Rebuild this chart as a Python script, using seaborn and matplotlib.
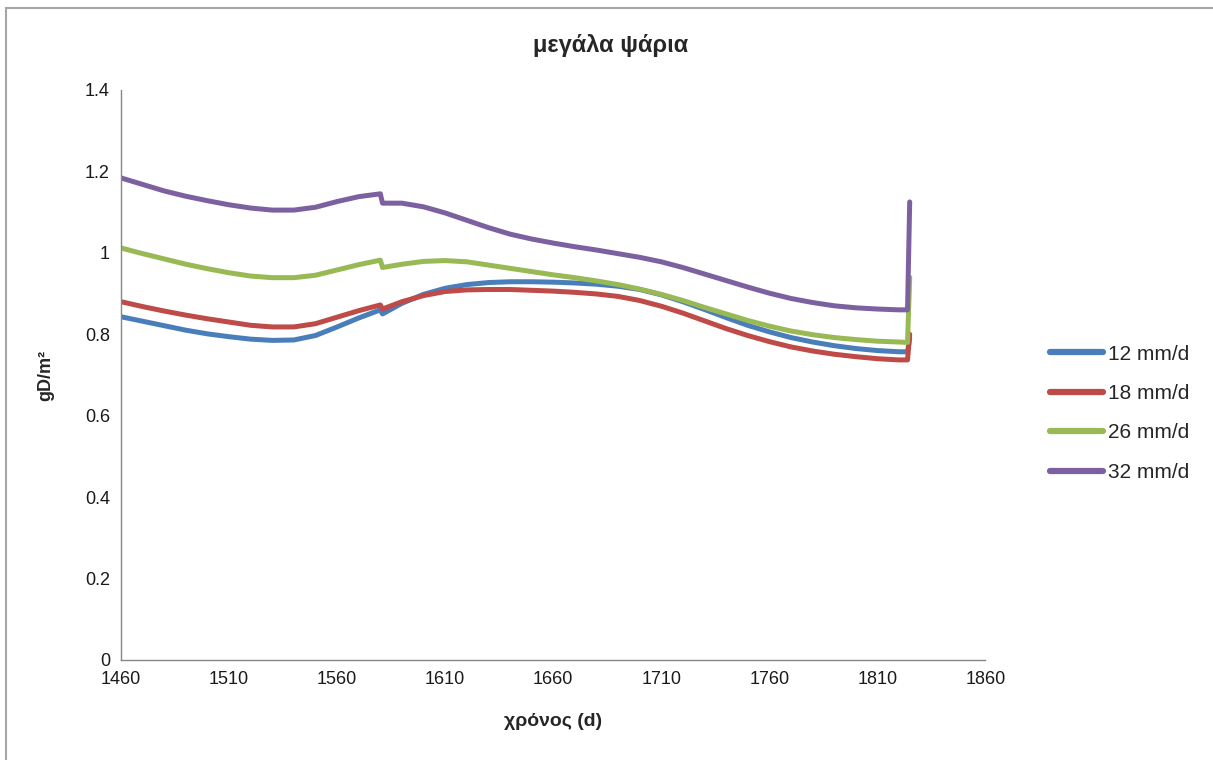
import matplotlib
matplotlib.use("Agg")
import matplotlib.pyplot as plt
import seaborn as sns
import pandas as pd
from matplotlib.patches import Rectangle

days = [1460, 1470, 1480, 1490, 1500, 1510, 1520, 1530, 1540, 1550, 1560, 1570, 1580,
        1581, 1590, 1600, 1610, 1620, 1630, 1640, 1650, 1660, 1670, 1680, 1690, 1700,
        1710, 1720, 1730, 1740, 1750, 1760, 1770, 1780, 1790, 1800, 1810, 1820, 1824, 1825]

s12 = [0.843, 0.832, 0.821, 0.810, 0.801, 0.794, 0.788, 0.785, 0.786, 0.797, 0.818, 0.840, 0.860,
       0.850, 0.876, 0.898, 0.913, 0.922, 0.927, 0.929, 0.929, 0.928, 0.926, 0.923, 0.918, 0.910,
       0.897, 0.880, 0.861, 0.841, 0.822, 0.806, 0.792, 0.781, 0.772, 0.765, 0.760, 0.757, 0.757, 0.79]
s18 = [0.880, 0.868, 0.857, 0.847, 0.838, 0.830, 0.822, 0.818, 0.818, 0.826, 0.842, 0.858, 0.872,
       0.862, 0.880, 0.895, 0.905, 0.909, 0.910, 0.910, 0.908, 0.906, 0.903, 0.899, 0.893, 0.883,
       0.869, 0.852, 0.833, 0.814, 0.797, 0.782, 0.769, 0.759, 0.751, 0.745, 0.740, 0.737, 0.737, 0.80]
s26 = [1.012, 0.998, 0.985, 0.972, 0.961, 0.951, 0.943, 0.939, 0.939, 0.945, 0.958, 0.971, 0.982,
       0.964, 0.972, 0.979, 0.981, 0.978, 0.970, 0.962, 0.954, 0.946, 0.939, 0.931, 0.922, 0.911,
       0.898, 0.883, 0.866, 0.850, 0.834, 0.820, 0.808, 0.799, 0.792, 0.787, 0.783, 0.781, 0.780, 0.94]
s32 = [1.184, 1.168, 1.152, 1.139, 1.128, 1.118, 1.110, 1.105, 1.105, 1.112, 1.126, 1.138, 1.145,
       1.122, 1.122, 1.113, 1.098, 1.080, 1.062, 1.046, 1.034, 1.024, 1.015, 1.007, 0.998, 0.989,
       0.978, 0.964, 0.948, 0.932, 0.916, 0.901, 0.888, 0.878, 0.870, 0.865, 0.862, 0.860, 0.860, 1.125]

series_names = ["12 mm/d", "18 mm/d", "26 mm/d", "32 mm/d"]
colors = ["#4A7EBB", "#BE4B48", "#98B954", "#7D60A0"]
x_ticks = [1460, 1510, 1560, 1610, 1660, 1710, 1760, 1810, 1860]
y_ticks = [0, 0.2, 0.4, 0.6, 0.8, 1.0, 1.2, 1.4]
y_tick_labels = ["0", "0.2", "0.4", "0.6", "0.8", "1", "1.2", "1.4"]

rows = []
for name, vals in zip(series_names, [s12, s18, s26, s32]):
    for d, v in zip(days, vals):
        rows.append({"day": d, "value": v, "series": name})
df = pd.DataFrame(rows)

sns.set_theme(style="white")
plt.rcParams['font.family'] = ['Liberation Sans', 'DejaVu Sans']

fig = plt.figure(figsize=(12.13, 7.6), dpi=100)
ax = fig.add_axes([0.0998, 0.1316, 0.7125, 0.75])

sns.lineplot(data=df, x="day", y="value", hue="series", hue_order=series_names,
             palette=colors, linewidth=3.6, estimator=None, sort=False, ax=ax)

ax.set_xlim(1460, 1860)
ax.set_ylim(0, 1.4)
ax.set_xticks(x_ticks)
ax.set_xticklabels([str(t) for t in x_ticks])
ax.set_yticks(y_ticks)
ax.set_yticklabels(y_tick_labels)
ax.tick_params(axis='both', length=0, labelsize=13, colors='#1a1a1a', pad=8)
for s in ["top", "right"]:
    ax.spines[s].set_visible(False)
for s in ["left", "bottom"]:
    ax.spines[s].set_color("#868686")
    ax.spines[s].set_linewidth(1.0)

ax.set_xlabel("χρόνος (d)", fontsize=14, fontweight='bold', labelpad=18)
ax.set_ylabel("gD/m²", fontsize=13, fontweight='bold', labelpad=22)
fig.text(0.503, 0.94, "μεγάλα ψάρια", fontsize=17, fontweight='bold', ha='center', va='center')

leg = ax.legend(loc='center left', bbox_to_anchor=(1.053, 0.433), frameon=False,
                fontsize=15, handlelength=2.55, handletextpad=0.25, labelspacing=0.98)
for line in leg.get_lines():
    line.set_linewidth(4.5)

fig.patches.append(Rectangle((0.005, -0.01), 1.2, 0.9995, transform=fig.transFigure,
                             fill=False, edgecolor='#A6A6A6', linewidth=1.5))

fig.savefig("out.png", dpi=100)
